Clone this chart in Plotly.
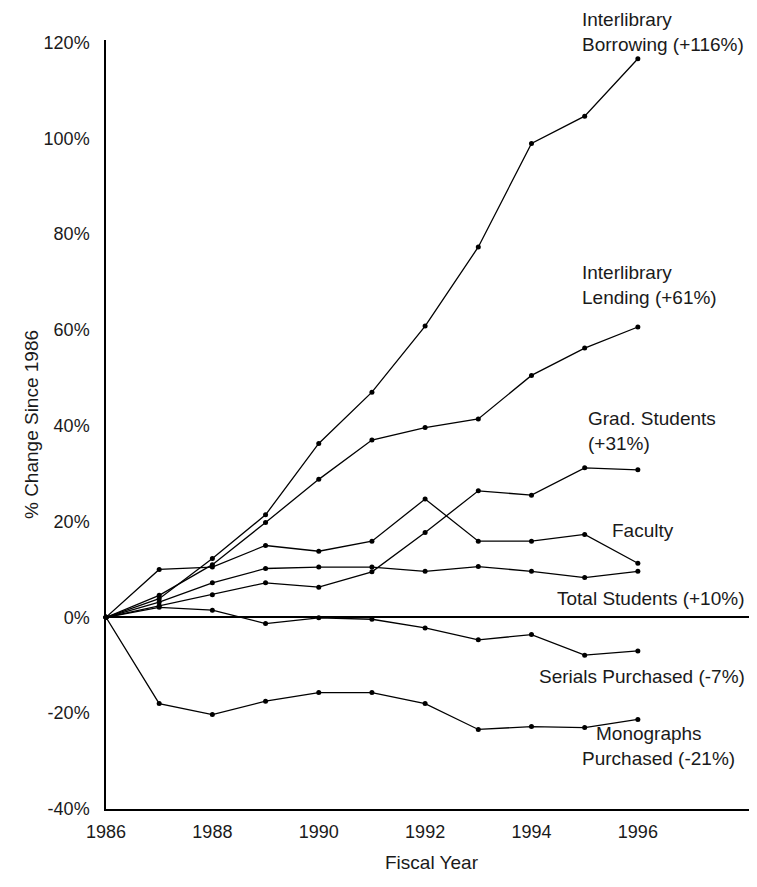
import plotly.graph_objects as go

years = [1986, 1987, 1988, 1989, 1990, 1991, 1992, 1993, 1994, 1995, 1996]

ill_borrowing = [0, 3.9, 12.3, 21.4, 36.3, 47.0, 60.8, 77.3, 98.9, 104.6, 116.6]
ill_lending = [0, 4.6, 11.0, 19.8, 28.8, 37.0, 39.6, 41.4, 50.5, 56.2, 60.6]
grad_students = [0, 2.4, 4.7, 7.2, 6.3, 9.5, 17.7, 26.4, 25.5, 31.2, 30.8]
faculty = [0, 10.0, 10.5, 15.0, 13.8, 15.9, 24.7, 15.9, 15.9, 17.3, 11.3]
total_students = [0, 3.2, 7.2, 10.2, 10.5, 10.5, 9.6, 10.6, 9.6, 8.3, 9.6]
serials = [0, 2.1, 1.5, -1.3, -0.1, -0.4, -2.2, -4.7, -3.6, -7.9, -7.0]
monographs = [0, -18.0, -20.3, -17.5, -15.7, -15.7, -18.0, -23.4, -22.8, -23.0, -21.3]

series = [
    ("Interlibrary Borrowing", ill_borrowing),
    ("Interlibrary Lending", ill_lending),
    ("Grad. Students", grad_students),
    ("Faculty", faculty),
    ("Total Students", total_students),
    ("Serials Purchased", serials),
    ("Monographs Purchased", monographs),
]

x_ticks = [1986, 1988, 1990, 1992, 1994, 1996]
y_ticks = [-40, -20, 0, 20, 40, 60, 80, 100, 120]
y_tick_labels = ["-40%", "-20%", "0%", "20%", "40%", "60%", "80%", "100%", "120%"]

# (text, x in years, y in percent)
labels = [
    ("Interlibrary<br>Lending (+61%)", 1994.91, 69.4),
    ("Grad. Students<br>(+31%)", 1995.02, 38.8),
    ("Faculty", 1995.47, 18.2),
    ("Total Students (+10%)", 1994.44, 4.0),
    ("Serials Purchased (-7%)", 1994.10, -12.3),
    ("Monographs", 1995.17, -24.2),
    ("Purchased (-21%)", 1994.91, -29.4),
]
top_label = ("Interlibrary<br>Borrowing (+116%)", 1994.91)

FONT = "Liberation Sans, Arial, sans-serif"
TXT = "#1a1a1a"

fig = go.Figure()
for name, vals in series:
    fig.add_trace(go.Scatter(
        x=years, y=vals, name=name, mode="lines+markers",
        line=dict(color="black", width=1.3),
        marker=dict(color="black", size=5),
        showlegend=False, cliponaxis=False,
    ))

for text, xv, yv in labels:
    fig.add_annotation(
        x=xv, y=yv, xref="x", yref="y", text=text, showarrow=False,
        xanchor="left", yanchor="middle", align="left",
        font=dict(family=FONT, size=19, color=TXT),
    )
fig.add_annotation(
    x=top_label[1], y=1.011, xref="x", yref="paper", text=top_label[0],
    showarrow=False, xanchor="left", yanchor="middle", align="left",
    font=dict(family=FONT, size=19, color=TXT),
)

fig.update_layout(
    width=749, height=879,
    margin=dict(l=98, r=0, t=32, b=78, autoexpand=False),
    paper_bgcolor="white", plot_bgcolor="white",
    font=dict(family=FONT, size=18, color=TXT),
)
fig.update_xaxes(
    range=[1986, 1998.24], tickvals=x_ticks, automargin=False,
    showgrid=False, zeroline=False,
    showline=True, linecolor="black", linewidth=1.5,
    ticks="", ticklabelstandoff=6,
    tickfont=dict(family=FONT, size=18, color=TXT),
    title=dict(text="Fiscal Year", standoff=14,
               font=dict(family=FONT, size=19, color=TXT)),
)
fig.update_yaxes(
    range=[-40, 120.5], tickvals=y_ticks, ticktext=y_tick_labels,
    automargin=False,
    showgrid=False, zeroline=True, zerolinecolor="black", zerolinewidth=1.5,
    showline=True, linecolor="black", linewidth=1.5,
    ticks="", ticklabelstandoff=11,
    tickfont=dict(family=FONT, size=18, color=TXT),
    title=dict(text="% Change Since 1986", standoff=0,
               font=dict(family=FONT, size=19, color=TXT)),
)

fig.write_html("out.html")
